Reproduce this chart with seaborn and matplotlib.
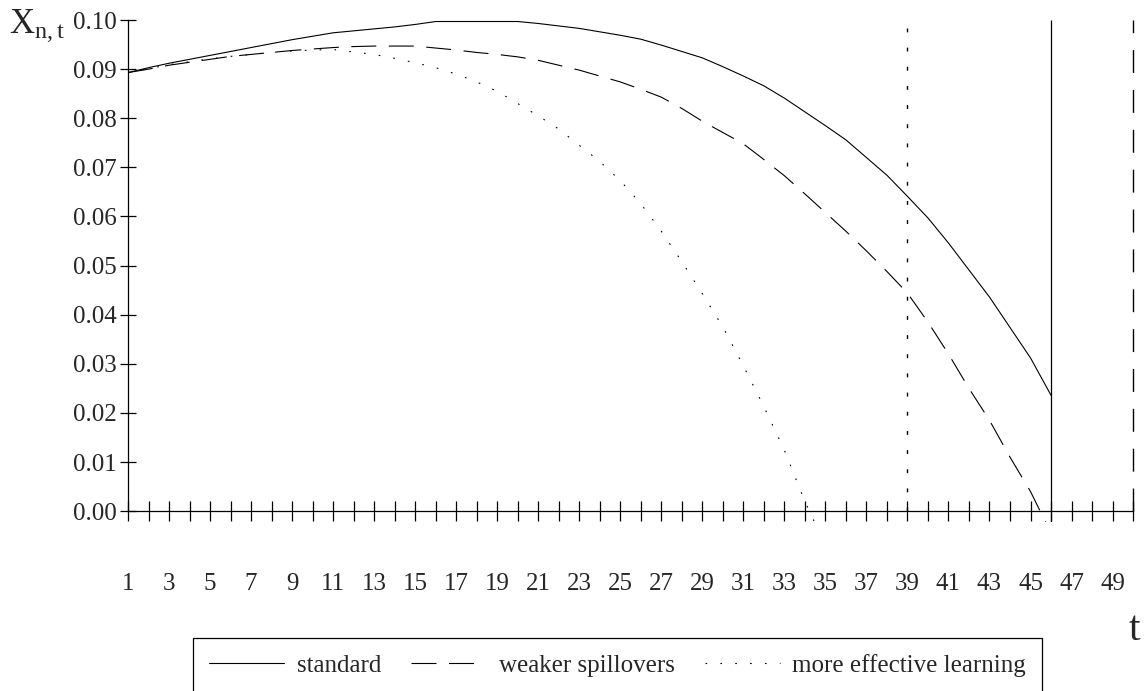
import numpy as np
import pandas as pd
import seaborn as sns
import matplotlib.pyplot as plt
import matplotlib

sns.set_style('white')
plt.rcParams['font.family'] = ['Liberation Serif', 'DejaVu Serif']
plt.rcParams['mathtext.fontset'] = 'custom'
plt.rcParams['mathtext.rm'] = 'Liberation Serif'
plt.rcParams['mathtext.it'] = 'Liberation Serif'
plt.rcParams['lines.scale_dashes'] = False

# periods
t_std = list(range(1, 47))
t_weak = list(range(1, 47))
t_learn = list(range(1, 36))

standard = [0.0893, 0.0903, 0.0912, 0.0920, 0.0928, 0.0936, 0.0944, 0.0952, 0.0960, 0.0967,
            0.0974, 0.0978, 0.0982, 0.0986, 0.0991, 0.0997, 0.0997, 0.0997, 0.0997, 0.0997,
            0.0993, 0.0988, 0.0983, 0.0976, 0.0969, 0.0961, 0.0949, 0.0936, 0.0923, 0.0905,
            0.0886, 0.0866, 0.0841, 0.0813, 0.0785, 0.0756, 0.0720, 0.0684, 0.0641, 0.0597,
            0.0546, 0.0491, 0.0436, 0.0374, 0.0312, 0.0236]

weaker_spillovers = [0.0893, 0.0900, 0.0908, 0.0914, 0.0920, 0.0926, 0.0930, 0.0934, 0.0938, 0.0941,
                     0.0944, 0.0946, 0.0947, 0.0947, 0.0947, 0.0943, 0.0939, 0.0934, 0.0930, 0.0925,
                     0.0918, 0.0908, 0.0898, 0.0886, 0.0874, 0.0859, 0.0843, 0.0820, 0.0794, 0.0771,
                     0.0748, 0.0716, 0.0683, 0.0646, 0.0608, 0.0570, 0.0530, 0.0488, 0.0444, 0.0385,
                     0.0320, 0.0250, 0.0185, 0.0110, 0.0040, -0.0045]

more_effective_learning = [0.0893, 0.0901, 0.0909, 0.0915, 0.0921, 0.0926, 0.0930, 0.0934, 0.0937, 0.0939,
                           0.0940, 0.0935, 0.0930, 0.0922, 0.0913, 0.0903, 0.0890, 0.0874, 0.0855, 0.0830,
                           0.0805, 0.0778, 0.0745, 0.0712, 0.0673, 0.0626, 0.0570, 0.0508, 0.0443, 0.0375,
                           0.0296, 0.0213, 0.0124, 0.0020, -0.0070]

# terminal periods of each scenario (vertical markers)
end_learn = 39
end_std = 46
end_weak = 50

labels = ['standard', 'weaker spillovers', 'more effective learning']

fig = plt.figure(figsize=(11.48, 6.91), dpi=100)
ax = fig.add_axes([0.1115, 0.2446, 0.8755, 0.7264])

ls_dash = (0, (18, 9))
ls_dot = (0, (1.2, 9.5))

sns.lineplot(x=t_std, y=standard, ax=ax, color='black', lw=0.8, label=labels[0])
sns.lineplot(x=t_weak, y=weaker_spillovers, ax=ax, color='black', lw=0.8,
             linestyle=ls_dash, label=labels[1])
sns.lineplot(x=t_learn, y=more_effective_learning, ax=ax, color='black', lw=0.8,
             linestyle=ls_dot, label=labels[2])

ax.set_xlim(1, 50)
ax.set_ylim(-0.0022, 0.1)

ax.vlines(end_learn, 0, 0.1, color='black', lw=1.0, linestyle=(0, (2.8, 11)))
ax.vlines(end_std, -0.0022, 0.1, color='black', lw=0.9)
ax.vlines(end_weak, 0, 0.1, color='black', lw=1.0, linestyle=(0, (16.5, 12.2)),
          clip_on=False)

for s in ['top', 'right']:
    ax.spines[s].set_visible(False)
ax.spines['bottom'].set_position(('data', 0))
ax.spines['left'].set_bounds(0, 0.1)
ax.spines['bottom'].set_linewidth(0.9)
ax.spines['left'].set_linewidth(0.9)
ax.spines['bottom'].set_color('black')
ax.spines['left'].set_color('black')

ax.set_xticks(range(1, 51))
ax.set_xticklabels([str(i) if i % 2 == 1 else '' for i in range(1, 51)])
ax.set_yticks(np.arange(0, 0.1001, 0.01))
ax.set_yticklabels(['%.2f' % v for v in np.arange(0, 0.1001, 0.01)])
ax.tick_params(axis='x', direction='inout', length=14.4, width=0.9, color='black',
               pad=37, labelsize=18, bottom=True)
ax.tick_params(axis='y', direction='inout', length=12, width=0.9, color='black',
               pad=2, labelsize=18, left=True)
ax.set_xlabel('')
ax.set_ylabel('')

fig.text(0.008, 0.99, r'$\mathregular{X_{n,t}}$', fontsize=25, ha='left', va='top')
fig.text(0.988, 0.088, 't', fontsize=30, ha='center', va='center')

leg = ax.legend(loc='upper center', bbox_to_anchor=(0.538, 0.0767),
                bbox_transform=fig.transFigure, ncol=3, fontsize=18, frameon=True,
                fancybox=False, edgecolor='black', framealpha=1, handlelength=3.0,
                handletextpad=0.5, columnspacing=1.2, borderpad=0.65, borderaxespad=0)
leg.get_frame().set_linewidth(0.9)

fig.savefig('out.png', dpi=100)
